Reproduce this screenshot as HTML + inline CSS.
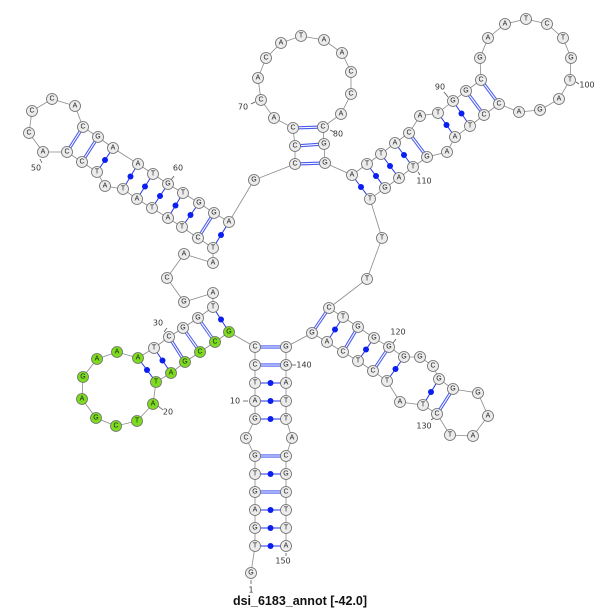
<!DOCTYPE html>
<html><head><meta charset="utf-8"><style>
html,body{margin:0;padding:0;background:#fff;}
svg{display:block;}
.n{fill:#ececec;stroke:#6a6a6a;stroke-width:0.8;r:5.5px;}
.g{fill:#7ddc1f;stroke:#6a6a6a;stroke-width:0.8;r:5.5px;}
.t{font-family:"Liberation Sans",sans-serif;font-size:7px;text-anchor:middle;dominant-baseline:central;fill:#222;}
.l{font-family:"DejaVu Sans","Liberation Sans",sans-serif;font-size:8px;fill:#333;text-anchor:middle;dominant-baseline:central;}
.p{stroke:#2233ee;stroke-width:1;}
.d1{stroke:#4a5cf0;stroke-width:3.2;}
.d2{stroke:#fff;stroke-width:1.1;}
.dot{fill:#0a1ef0;}
</style></head><body>
<svg width="600" height="610" viewBox="0 0 600 610" xmlns="http://www.w3.org/2000/svg">
<polyline fill="none" stroke="#8a8a8a" stroke-width="0.8" points="251,573 255,546 255,528 255,510 255,492 255,474 255,456 246,438 255,419 255,401 255,383 255,365 255,347 229,332 215,342 200,352 185,362 171,373 156,382 153,404 137,421 116,426 96,418 82,399 83,377 97,359 117,352 138,358 154,348 169,337 183,328 198,318 213,307 213,293 184,302 167,278 184,254 213,263 213,248 198,238 182,227 168,218 152,208 137,199 123,189 105,186 97,172 82,162 67,152 43,152 29,133 32,111 52,99 75,106 83,127 98,137 113,148 138,164 153,174 168,184 183,193 199,203 214,213 229,222 254,180 295,164 295,146 293,128 274,118 261,100 258,78 266,58 281,43 301,36 324,40 342,53 351,72 351,94 341,114 323,127 324,144 325,163 352,175 367,164 381,154 395,143 409,133 420,116 438,113 453,101 466,91 481,80 480,58 488,38 505,24 526,19 547,24 563,38 571,58 570,80 559,99 540,110 519,112 499,104 484,115 470,126 455,137 447,152 427,157 413,167 399,178 385,188 370,199 382,238 367,279 329,308 343,317 358,327 374,338 389,347 404,357 420,357 433,366 439,379 453,389 478,393 488,416 473,436 450,435 437,414 423,405 400,402 387,381 373,371 358,361 343,352 327,342 312,333 286,347 286,365 286,383 286,401 286,419 292,438 286,456 286,474 286,492 286,510 286,528 286,546"/>
<g class="d1">
<line x1="255" y1="347" x2="286" y2="347"/><line x1="255" y1="365" x2="286" y2="365"/><line x1="255" y1="456" x2="286" y2="456"/><line x1="255" y1="492" x2="286" y2="492"/>
<line x1="198" y1="318" x2="215" y2="342"/><line x1="183" y1="328" x2="200" y2="352"/><line x1="169" y1="337" x2="185" y2="362"/>
<line x1="83" y1="127" x2="67" y2="152"/><line x1="98" y1="137" x2="82" y2="162"/><line x1="214" y1="213" x2="198" y2="238"/>
<line x1="293" y1="128" x2="323" y2="127"/><line x1="295" y1="146" x2="324" y2="144"/><line x1="295" y1="164" x2="325" y2="163"/>
<line x1="409" y1="133" x2="427" y2="157"/><line x1="466" y1="91" x2="484" y2="115"/><line x1="481" y1="80" x2="499" y2="104"/>
<line x1="329" y1="308" x2="312" y2="333"/><line x1="358" y1="327" x2="343" y2="352"/><line x1="389" y1="347" x2="373" y2="371"/><line x1="453" y1="389" x2="437" y2="414"/>
</g>
<g class="d2">
<line x1="255" y1="347" x2="286" y2="347"/><line x1="255" y1="365" x2="286" y2="365"/><line x1="255" y1="456" x2="286" y2="456"/><line x1="255" y1="492" x2="286" y2="492"/>
<line x1="198" y1="318" x2="215" y2="342"/><line x1="183" y1="328" x2="200" y2="352"/><line x1="169" y1="337" x2="185" y2="362"/>
<line x1="83" y1="127" x2="67" y2="152"/><line x1="98" y1="137" x2="82" y2="162"/><line x1="214" y1="213" x2="198" y2="238"/>
<line x1="293" y1="128" x2="323" y2="127"/><line x1="295" y1="146" x2="324" y2="144"/><line x1="295" y1="164" x2="325" y2="163"/>
<line x1="409" y1="133" x2="427" y2="157"/><line x1="466" y1="91" x2="484" y2="115"/><line x1="481" y1="80" x2="499" y2="104"/>
<line x1="329" y1="308" x2="312" y2="333"/><line x1="358" y1="327" x2="343" y2="352"/><line x1="389" y1="347" x2="373" y2="371"/><line x1="453" y1="389" x2="437" y2="414"/>
</g>
<g class="p">
<line x1="255" y1="383" x2="286" y2="383"/><line x1="255" y1="401" x2="286" y2="401"/><line x1="255" y1="419" x2="286" y2="419"/><line x1="255" y1="474" x2="286" y2="474"/><line x1="255" y1="510" x2="286" y2="510"/><line x1="255" y1="528" x2="286" y2="528"/><line x1="255" y1="546" x2="286" y2="546"/>
<line x1="213" y1="307" x2="229" y2="332"/><line x1="154" y1="348" x2="171" y2="373"/><line x1="138" y1="358" x2="156" y2="382"/>
<line x1="113" y1="148" x2="97" y2="172"/><line x1="138" y1="164" x2="123" y2="189"/><line x1="153" y1="174" x2="137" y2="199"/><line x1="168" y1="184" x2="152" y2="208"/><line x1="183" y1="193" x2="168" y2="218"/><line x1="199" y1="203" x2="182" y2="227"/><line x1="229" y1="222" x2="213" y2="248"/>
<line x1="352" y1="175" x2="370" y2="199"/><line x1="367" y1="164" x2="385" y2="188"/><line x1="381" y1="154" x2="399" y2="178"/><line x1="395" y1="143" x2="413" y2="167"/><line x1="438" y1="113" x2="455" y2="137"/><line x1="453" y1="101" x2="470" y2="126"/>
<line x1="343" y1="317" x2="327" y2="342"/><line x1="374" y1="338" x2="358" y2="361"/><line x1="404" y1="357" x2="387" y2="381"/><line x1="439" y1="379" x2="423" y2="405"/>
</g>
<g class="dot">
<circle cx="270.5" cy="383" r="3"/><circle cx="270.5" cy="401" r="3"/><circle cx="270.5" cy="419" r="3"/><circle cx="270.5" cy="474" r="3"/><circle cx="270.5" cy="510" r="3"/><circle cx="270.5" cy="528" r="3"/><circle cx="270.5" cy="546" r="3"/>
<circle cx="221" cy="319.5" r="3"/><circle cx="162.5" cy="360.5" r="3"/><circle cx="147" cy="370" r="3"/>
<circle cx="105" cy="160" r="3"/><circle cx="130.5" cy="176.5" r="3"/><circle cx="145" cy="186.5" r="3"/><circle cx="160" cy="196" r="3"/><circle cx="175.5" cy="205.5" r="3"/><circle cx="190.5" cy="215" r="3"/><circle cx="221" cy="235" r="3"/>
<circle cx="361" cy="187" r="3"/><circle cx="376" cy="176" r="3"/><circle cx="390" cy="166" r="3"/><circle cx="404" cy="155" r="3"/><circle cx="446.5" cy="125" r="3"/><circle cx="461.5" cy="113.5" r="3"/>
<circle cx="335" cy="329.5" r="3"/><circle cx="366" cy="349.5" r="3"/><circle cx="395.5" cy="369" r="3"/><circle cx="431" cy="392" r="3"/>
</g>
<g stroke="#555" stroke-width="0.8">
<line x1="251" y1="580" x2="251" y2="584"/><line x1="243" y1="401" x2="248" y2="401"/><line x1="158" y1="406" x2="163" y2="410"/><line x1="164" y1="332" x2="167" y2="328"/>
<line x1="40" y1="159" x2="42" y2="163"/><line x1="174" y1="176" x2="171" y2="180"/><line x1="251" y1="104" x2="255" y2="102"/><line x1="330" y1="130" x2="334" y2="132"/>
<line x1="444" y1="92" x2="448" y2="97"/><line x1="576" y1="82" x2="579" y2="84"/><line x1="418" y1="172" x2="420" y2="175"/><line x1="396" y1="339" x2="393" y2="343"/>
<line x1="431" y1="420" x2="434" y2="418"/><line x1="292" y1="365" x2="296" y2="365"/><line x1="286" y1="553" x2="286" y2="556"/>
</g>
<g class="l">
<text x="251" y="590">1</text><text x="235" y="401">10</text><text x="168" y="412">20</text><text x="158" y="323">30</text><text x="184" y="254">40</text>
<text x="36" y="168">50</text><text x="178" y="168">60</text><text x="243" y="107">70</text><text x="338" y="134">80</text><text x="440" y="87">90</text>
<text x="587" y="85">100</text><text x="424" y="181">110</text><text x="398" y="332">120</text><text x="424" y="426">130</text><text x="304" y="365">140</text><text x="283" y="561">150</text>
</g>
<g>
<circle class="n" cx="251" cy="573" r="5"/><circle class="n" cx="255" cy="546" r="5"/><circle class="n" cx="255" cy="528" r="5"/><circle class="n" cx="255" cy="510" r="5"/><circle class="n" cx="255" cy="492" r="5"/><circle class="n" cx="255" cy="474" r="5"/><circle class="n" cx="255" cy="456" r="5"/><circle class="n" cx="246" cy="438" r="5"/><circle class="n" cx="255" cy="419" r="5"/><circle class="n" cx="255" cy="401" r="5"/><circle class="n" cx="255" cy="383" r="5"/><circle class="n" cx="255" cy="365" r="5"/><circle class="n" cx="255" cy="347" r="5"/>
<circle class="g" cx="229" cy="332" r="5"/><circle class="g" cx="215" cy="342" r="5"/><circle class="g" cx="200" cy="352" r="5"/><circle class="g" cx="185" cy="362" r="5"/><circle class="g" cx="171" cy="373" r="5"/><circle class="g" cx="156" cy="382" r="5"/><circle class="g" cx="153" cy="404" r="5"/><circle class="g" cx="137" cy="421" r="5"/><circle class="g" cx="116" cy="426" r="5"/><circle class="g" cx="96" cy="418" r="5"/><circle class="g" cx="82" cy="399" r="5"/><circle class="g" cx="83" cy="377" r="5"/><circle class="g" cx="97" cy="359" r="5"/><circle class="g" cx="117" cy="352" r="5"/><circle class="g" cx="138" cy="358" r="5"/>
<circle class="n" cx="154" cy="348" r="5"/><circle class="n" cx="169" cy="337" r="5"/><circle class="n" cx="183" cy="328" r="5"/><circle class="n" cx="198" cy="318" r="5"/><circle class="n" cx="213" cy="307" r="5"/><circle class="n" cx="213" cy="293" r="5"/><circle class="n" cx="184" cy="302" r="5"/><circle class="n" cx="167" cy="278" r="5"/><circle class="n" cx="184" cy="254" r="5"/><circle class="n" cx="213" cy="263" r="5"/><circle class="n" cx="213" cy="248" r="5"/><circle class="n" cx="198" cy="238" r="5"/><circle class="n" cx="182" cy="227" r="5"/><circle class="n" cx="168" cy="218" r="5"/><circle class="n" cx="152" cy="208" r="5"/><circle class="n" cx="137" cy="199" r="5"/><circle class="n" cx="123" cy="189" r="5"/><circle class="n" cx="105" cy="186" r="5"/><circle class="n" cx="97" cy="172" r="5"/><circle class="n" cx="82" cy="162" r="5"/><circle class="n" cx="67" cy="152" r="5"/><circle class="n" cx="43" cy="152" r="5"/><circle class="n" cx="29" cy="133" r="5"/><circle class="n" cx="32" cy="111" r="5"/><circle class="n" cx="52" cy="99" r="5"/><circle class="n" cx="75" cy="106" r="5"/><circle class="n" cx="83" cy="127" r="5"/><circle class="n" cx="98" cy="137" r="5"/><circle class="n" cx="113" cy="148" r="5"/><circle class="n" cx="138" cy="164" r="5"/><circle class="n" cx="153" cy="174" r="5"/><circle class="n" cx="168" cy="184" r="5"/><circle class="n" cx="183" cy="193" r="5"/><circle class="n" cx="199" cy="203" r="5"/><circle class="n" cx="214" cy="213" r="5"/><circle class="n" cx="229" cy="222" r="5"/><circle class="n" cx="254" cy="180" r="5"/>
<circle class="n" cx="295" cy="164" r="5"/><circle class="n" cx="295" cy="146" r="5"/><circle class="n" cx="293" cy="128" r="5"/><circle class="n" cx="274" cy="118" r="5"/><circle class="n" cx="261" cy="100" r="5"/><circle class="n" cx="258" cy="78" r="5"/><circle class="n" cx="266" cy="58" r="5"/><circle class="n" cx="281" cy="43" r="5"/><circle class="n" cx="301" cy="36" r="5"/><circle class="n" cx="324" cy="40" r="5"/><circle class="n" cx="342" cy="53" r="5"/><circle class="n" cx="351" cy="72" r="5"/><circle class="n" cx="351" cy="94" r="5"/><circle class="n" cx="341" cy="114" r="5"/><circle class="n" cx="323" cy="127" r="5"/><circle class="n" cx="324" cy="144" r="5"/><circle class="n" cx="325" cy="163" r="5"/>
<circle class="n" cx="352" cy="175" r="5"/><circle class="n" cx="367" cy="164" r="5"/><circle class="n" cx="381" cy="154" r="5"/><circle class="n" cx="395" cy="143" r="5"/><circle class="n" cx="409" cy="133" r="5"/><circle class="n" cx="420" cy="116" r="5"/><circle class="n" cx="438" cy="113" r="5"/><circle class="n" cx="453" cy="101" r="5"/><circle class="n" cx="466" cy="91" r="5"/><circle class="n" cx="481" cy="80" r="5"/><circle class="n" cx="480" cy="58" r="5"/><circle class="n" cx="488" cy="38" r="5"/><circle class="n" cx="505" cy="24" r="5"/><circle class="n" cx="526" cy="19" r="5"/><circle class="n" cx="547" cy="24" r="5"/><circle class="n" cx="563" cy="38" r="5"/><circle class="n" cx="571" cy="58" r="5"/><circle class="n" cx="570" cy="80" r="5"/><circle class="n" cx="559" cy="99" r="5"/><circle class="n" cx="540" cy="110" r="5"/><circle class="n" cx="519" cy="112" r="5"/><circle class="n" cx="499" cy="104" r="5"/><circle class="n" cx="484" cy="115" r="5"/><circle class="n" cx="470" cy="126" r="5"/><circle class="n" cx="455" cy="137" r="5"/><circle class="n" cx="447" cy="152" r="5"/><circle class="n" cx="427" cy="157" r="5"/><circle class="n" cx="413" cy="167" r="5"/><circle class="n" cx="399" cy="178" r="5"/><circle class="n" cx="385" cy="188" r="5"/><circle class="n" cx="370" cy="199" r="5"/><circle class="n" cx="382" cy="238" r="5"/><circle class="n" cx="367" cy="279" r="5"/>
<circle class="n" cx="329" cy="308" r="5"/><circle class="n" cx="343" cy="317" r="5"/><circle class="n" cx="358" cy="327" r="5"/><circle class="n" cx="374" cy="338" r="5"/><circle class="n" cx="389" cy="347" r="5"/><circle class="n" cx="404" cy="357" r="5"/><circle class="n" cx="420" cy="357" r="5"/><circle class="n" cx="433" cy="366" r="5"/><circle class="n" cx="439" cy="379" r="5"/><circle class="n" cx="453" cy="389" r="5"/><circle class="n" cx="478" cy="393" r="5"/><circle class="n" cx="488" cy="416" r="5"/><circle class="n" cx="473" cy="436" r="5"/><circle class="n" cx="450" cy="435" r="5"/><circle class="n" cx="437" cy="414" r="5"/><circle class="n" cx="423" cy="405" r="5"/><circle class="n" cx="400" cy="402" r="5"/><circle class="n" cx="387" cy="381" r="5"/><circle class="n" cx="373" cy="371" r="5"/><circle class="n" cx="358" cy="361" r="5"/><circle class="n" cx="343" cy="352" r="5"/><circle class="n" cx="327" cy="342" r="5"/><circle class="n" cx="312" cy="333" r="5"/>
<circle class="n" cx="286" cy="347" r="5"/><circle class="n" cx="286" cy="365" r="5"/><circle class="n" cx="286" cy="383" r="5"/><circle class="n" cx="286" cy="401" r="5"/><circle class="n" cx="286" cy="419" r="5"/><circle class="n" cx="292" cy="438" r="5"/><circle class="n" cx="286" cy="456" r="5"/><circle class="n" cx="286" cy="474" r="5"/><circle class="n" cx="286" cy="492" r="5"/><circle class="n" cx="286" cy="510" r="5"/><circle class="n" cx="286" cy="528" r="5"/><circle class="n" cx="286" cy="546" r="5"/>
</g>
<g class="t">
<text x="251" y="573">G</text><text x="255" y="546">T</text><text x="255" y="528">G</text><text x="255" y="510">A</text><text x="255" y="492">G</text><text x="255" y="474">T</text><text x="255" y="456">G</text><text x="246" y="438">C</text><text x="255" y="419">G</text><text x="255" y="401">A</text><text x="255" y="383">T</text><text x="255" y="365">C</text><text x="255" y="347">C</text>
<text x="229" y="332">G</text><text x="215" y="342">C</text><text x="200" y="352">C</text><text x="185" y="362">G</text><text x="171" y="373">A</text><text x="156" y="382">T</text><text x="153" y="404">A</text><text x="137" y="421">T</text><text x="116" y="426">C</text><text x="96" y="418">G</text><text x="82" y="399">A</text><text x="83" y="377">G</text><text x="97" y="359">A</text><text x="117" y="352">A</text><text x="138" y="358">A</text>
<text x="154" y="348">T</text><text x="169" y="337">C</text><text x="183" y="328">G</text><text x="198" y="318">G</text><text x="213" y="307">T</text><text x="213" y="293">A</text><text x="184" y="302">G</text><text x="167" y="278">C</text><text x="184" y="254">A</text><text x="213" y="263">A</text><text x="213" y="248">T</text><text x="198" y="238">C</text><text x="182" y="227">T</text><text x="168" y="218">A</text><text x="152" y="208">T</text><text x="137" y="199">A</text><text x="123" y="189">T</text><text x="105" y="186">A</text><text x="97" y="172">T</text><text x="82" y="162">C</text><text x="67" y="152">C</text><text x="43" y="152">A</text><text x="29" y="133">C</text><text x="32" y="111">C</text><text x="52" y="99">C</text><text x="75" y="106">A</text><text x="83" y="127">C</text><text x="98" y="137">G</text><text x="113" y="148">A</text><text x="138" y="164">A</text><text x="153" y="174">T</text><text x="168" y="184">G</text><text x="183" y="193">T</text><text x="199" y="203">G</text><text x="214" y="213">G</text><text x="229" y="222">A</text><text x="254" y="180">G</text>
<text x="295" y="164">C</text><text x="295" y="146">C</text><text x="293" y="128">C</text><text x="274" y="118">A</text><text x="261" y="100">C</text><text x="258" y="78">A</text><text x="266" y="58">C</text><text x="281" y="43">A</text><text x="301" y="36">T</text><text x="324" y="40">A</text><text x="342" y="53">A</text><text x="351" y="72">C</text><text x="351" y="94">C</text><text x="341" y="114">A</text><text x="323" y="127">C</text><text x="324" y="144">G</text><text x="325" y="163">G</text>
<text x="352" y="175">A</text><text x="367" y="164">T</text><text x="381" y="154">T</text><text x="395" y="143">A</text><text x="409" y="133">C</text><text x="420" y="116">A</text><text x="438" y="113">T</text><text x="453" y="101">G</text><text x="466" y="91">G</text><text x="481" y="80">C</text><text x="480" y="58">G</text><text x="488" y="38">A</text><text x="505" y="24">A</text><text x="526" y="19">T</text><text x="547" y="24">C</text><text x="563" y="38">T</text><text x="571" y="58">G</text><text x="570" y="80">T</text><text x="559" y="99">A</text><text x="540" y="110">G</text><text x="519" y="112">A</text><text x="499" y="104">C</text><text x="484" y="115">C</text><text x="470" y="126">T</text><text x="455" y="137">A</text><text x="447" y="152">A</text><text x="427" y="157">G</text><text x="413" y="167">T</text><text x="399" y="178">A</text><text x="385" y="188">G</text><text x="370" y="199">T</text><text x="382" y="238">T</text><text x="367" y="279">T</text>
<text x="329" y="308">C</text><text x="343" y="317">T</text><text x="358" y="327">G</text><text x="374" y="338">G</text><text x="389" y="347">G</text><text x="404" y="357">G</text><text x="420" y="357">G</text><text x="433" y="366">C</text><text x="439" y="379">G</text><text x="453" y="389">G</text><text x="478" y="393">G</text><text x="488" y="416">A</text><text x="473" y="436">A</text><text x="450" y="435">T</text><text x="437" y="414">C</text><text x="423" y="405">T</text><text x="400" y="402">A</text><text x="387" y="381">T</text><text x="373" y="371">C</text><text x="358" y="361">T</text><text x="343" y="352">C</text><text x="327" y="342">A</text><text x="312" y="333">G</text>
<text x="286" y="347">G</text><text x="286" y="365">G</text><text x="286" y="383">A</text><text x="286" y="401">T</text><text x="286" y="419">T</text><text x="292" y="438">A</text><text x="286" y="456">C</text><text x="286" y="474">G</text><text x="286" y="492">C</text><text x="286" y="510">T</text><text x="286" y="528">T</text><text x="286" y="546">A</text>
</g>
<text x="300" y="605" font-family="'Liberation Sans',sans-serif" font-size="12.5" font-weight="bold" text-anchor="middle" fill="#111">dsi_6183_annot [-42.0]</text>
</svg>
</body></html>
